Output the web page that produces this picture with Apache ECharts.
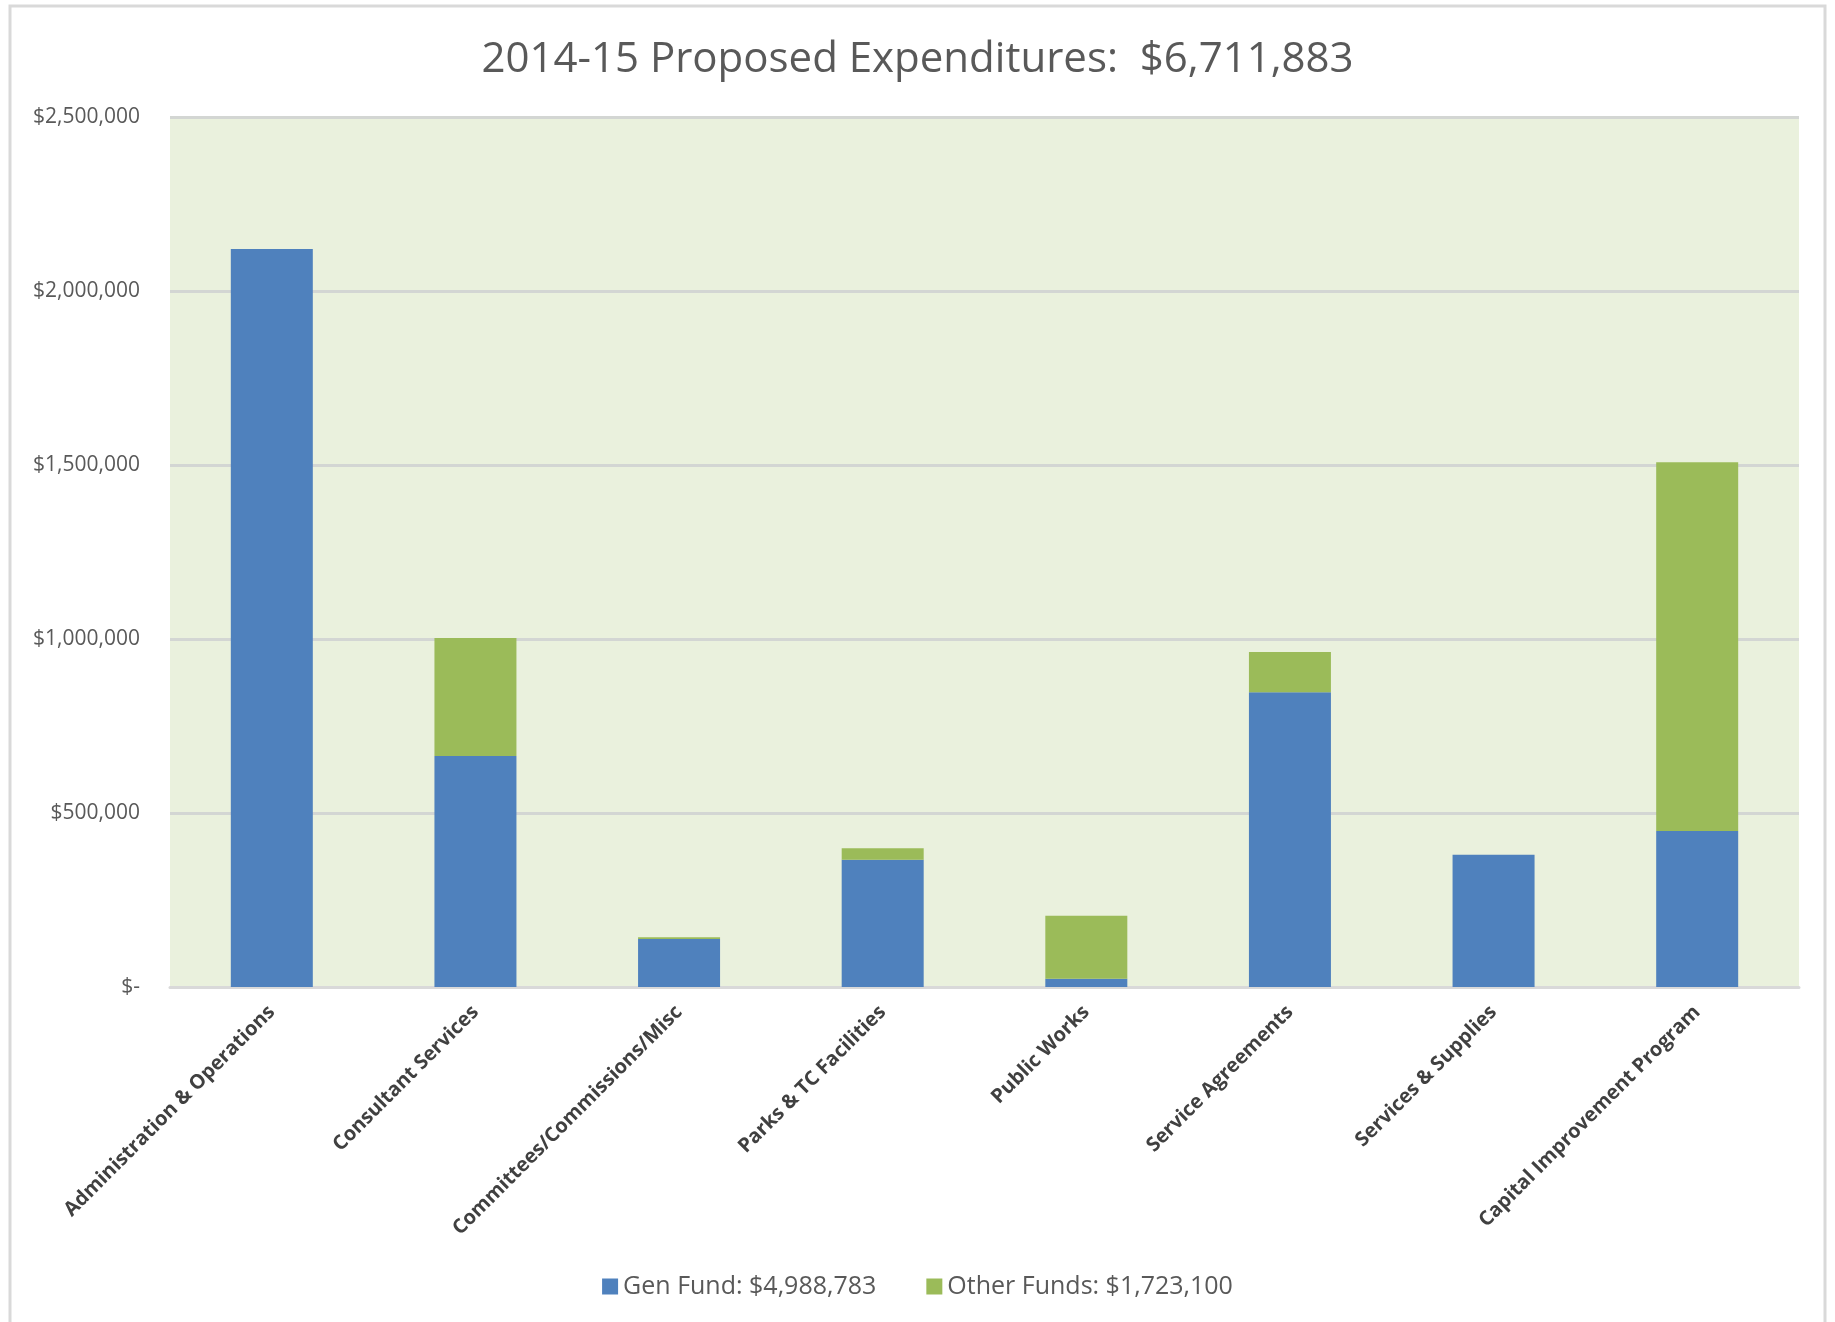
<!DOCTYPE html>
<html>
<head>
<meta charset="utf-8">
<script src="https://cdn.jsdelivr.net/npm/echarts@6/dist/echarts.min.js"></script>
<style>
html,body{margin:0;padding:0;background:#fff;}
#chart{width:1835px;height:1322px;}
</style>
</head>
<body>
<div id="chart"></div>
<script>
const titleText = "2014-15 Proposed Expenditures:  $6,711,883";
const categories = [
  "Administration & Operations",
  "Consultant Services",
  "Committees/Commissions/Misc",
  "Parks & TC Facilities",
  "Public Works",
  "Service Agreements",
  "Services & Supplies",
  "Capital Improvement Program"
];
const genFundName = "Gen Fund: $4,988,783";
const otherFundName = "Other Funds: $1,723,100";
const genFund = [2121000, 664000, 138000, 366000, 24000, 847000, 380000, 448000];
const otherFunds = [0, 339000, 5000, 33000, 181000, 116000, 0, 1060000];
const yTicks = [0, 500000, 1000000, 1500000, 2000000, 2500000];

const FONT = "'Open Sans', sans-serif";

function fmtMoney(v) {
  if (v === 0) return "$-";
  return "$" + v.toLocaleString("en-US");
}

const chart = echarts.init(document.getElementById('chart'), null, {renderer: 'canvas'});
chart.setOption({
  backgroundColor: '#ffffff',
  animation: false,
  graphic: [{
    type: 'rect',
    shape: {x: 10, y: 6, width: 1815, height: 1340},
    style: {fill: 'none', stroke: '#D9D9D9', lineWidth: 3},
    z: -10
  }],
  title: {
    text: titleText,
    left: 'center',
    top: 34,
    textStyle: {fontFamily: FONT, fontSize: 42, fontWeight: 'normal', color: '#595959'}
  },
  legend: {
    bottom: 18,
    left: 'center',
    itemWidth: 16,
    itemHeight: 16,
    itemGap: 50,
    icon: 'rect',
    textStyle: {fontFamily: FONT, fontSize: 25, color: '#595959'},
    data: [genFundName, otherFundName]
  },
  grid: {
    left: 170, right: 36, top: 117, bottom: 335,
    show: true, backgroundColor: '#EAF1DD', borderWidth: 0
  },
  xAxis: {
    type: 'category',
    data: categories,
    axisLine: {show: true, lineStyle: {color: '#D9D9D9', width: 3}},
    axisTick: {show: false},
    axisLabel: {
      interval: 0, rotate: 45, margin: 22,
      fontFamily: FONT, fontSize: 20, fontWeight: 'bold', color: '#404040'
    }
  },
  yAxis: {
    type: 'value',
    min: 0, max: 2500000, interval: 500000,
    axisLine: {show: false},
    axisTick: {show: false},
    splitLine: {show: true, lineStyle: {color: '#D3D6D3', width: 3}},
    axisLabel: {
      margin: 30,
      fontFamily: FONT, fontSize: 21, color: '#595959',
      formatter: function (v) { return fmtMoney(v); }
    }
  },
  series: [
    {
      name: genFundName, type: 'bar', stack: 'total',
      data: genFund, barWidth: 82,
      itemStyle: {color: '#4F81BD'}
    },
    {
      name: otherFundName, type: 'bar', stack: 'total',
      data: otherFunds, barWidth: 82,
      itemStyle: {color: '#9BBB59'}
    }
  ]
});
</script>
</body>
</html>
